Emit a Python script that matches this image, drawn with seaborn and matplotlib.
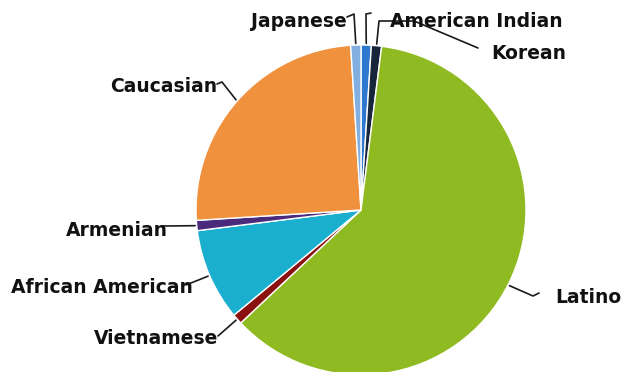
import numpy as np
import matplotlib
matplotlib.use("Agg")
import matplotlib.pyplot as plt
import seaborn as sns

sns.set_theme(style="white")
plt.rcParams["font.family"] = ["DejaVu Sans"]

# data, clockwise from 12 o'clock
groups = ["American Indian", "Korean", "Latino", "Vietnamese",
          "African American", "Armenian", "Caucasian", "Japanese"]
counts = [1, 1, 61, 1, 9, 1, 25, 1]
colors = ["#2f78d0", "#16253a", "#8fba22", "#8b1010",
          "#1aaecf", "#4a2a7a", "#f0913e", "#80afe0"]

# pixel layout of the reference
W, H = 623, 372
CX, CY, R = 361, 210, 165


def px(x, y):
    return ((x - CX) / R, (CY - y) / R)


# label anchor (px), alignment, leader bend points (px)
layout = {
    "Japanese":         ((347, 27), "right", [(354, 14), (347, 17)]),
    "American Indian":  ((390, 27), "left",  [(366, 14), (371, 13)]),
    "Korean":           ((491, 59), "left",  [(379, 21), (414, 21), (478, 48)]),
    "Latino":           ((555, 303), "left", [(533, 296), (539, 293)]),
    "Vietnamese":       ((218, 344), "right", [(218, 336)]),
    "African American": ((193, 293), "right", [(186, 285)]),
    "Armenian":         ((168, 236), "right", [(163, 226)]),
    "Caucasian":        ((217, 92), "right", [(222, 82), (217, 84)]),
}

fig = plt.figure(figsize=(W / 100, H / 100), dpi=100)
ax = fig.add_axes([0, 0, 1, 1])
wedges, _ = ax.pie(counts, colors=colors, startangle=90, counterclock=False,
                   radius=1, wedgeprops=dict(edgecolor="white", linewidth=1))

for w, name in zip(wedges, groups):
    mid = np.deg2rad((w.theta1 + w.theta2) / 2)
    start = (1.01 * np.cos(mid), 1.01 * np.sin(mid))
    (tx, ty), ha, bends = layout[name]
    pts = [start] + [px(*p) for p in bends]
    xs, ys = zip(*pts)
    ax.plot(xs, ys, color="#1a1a1a", lw=1.2, zorder=3, solid_capstyle="round")
    ax.text(*px(tx, ty), name, ha=ha, va="baseline", fontsize=13.5,
            fontweight="bold", color="#111111", zorder=4)

ax.set_xlim(-CX / R, (W - CX) / R)
ax.set_ylim(-(H - CY) / R, CY / R)
ax.set_aspect("equal")
ax.axis("off")

plt.savefig("out.png", dpi=100)
plt.close()
